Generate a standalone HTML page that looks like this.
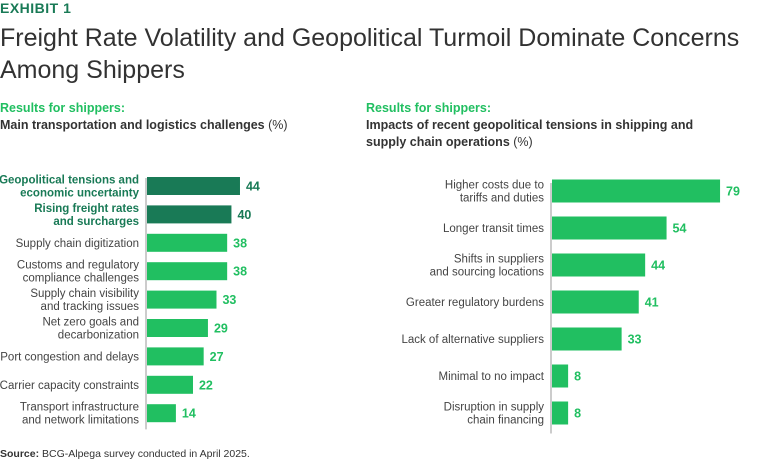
<!DOCTYPE html>
<html><head><meta charset="utf-8"><style>
body{margin:0;width:768px;height:463px;background:#fff;font-family:"Liberation Sans",sans-serif;position:relative;overflow:hidden}
.a{position:absolute;white-space:nowrap}
</style></head><body>
<div class="a" style="left:0;top:0;font-size:14px;font-weight:bold;color:#197a56;letter-spacing:0.5px">EXHIBIT 1</div>
<div class="a" style="left:0;top:22px;font-size:25px;line-height:32px;color:#323232;font-weight:300">Freight Rate Volatility and Geopolitical Turmoil Dominate Concerns<br>Among Shippers</div>
<div class="a" style="left:0;top:100px;font-size:12.5px;line-height:17px;color:#333"><b style="color:#21bf61">Results for shippers:</b><br><b>Main transportation and logistics challenges</b> (%)</div>
<div class="a" style="left:366px;top:100px;font-size:12.5px;line-height:17px;color:#333"><b style="color:#21bf61">Results for shippers:</b><br><b>Impacts of recent geopolitical tensions in shipping and<br>supply chain operations</b> (%)</div>
<div class="a" style="left:0;top:448px;font-size:10.5px;color:#333"><b>Source:</b> BCG-Alpega survey conducted in April 2025.</div>
<svg width="768" height="463" style="position:absolute;left:0;top:0" id="svg"></svg>
<script>
const leftCats=[["Geopolitical tensions and","economic uncertainty"],["Rising freight rates","and surcharges"],["Supply chain digitization"],["Customs and regulatory","compliance challenges"],["Supply chain visibility","and tracking issues"],["Net zero goals and","decarbonization"],["Port congestion and delays"],["Carrier capacity constraints"],["Transport infrastructure","and network limitations"]];
const leftVals=[44,40,38,38,33,29,27,22,14];
const leftHighlight=[true,true,false,false,false,false,false,false,false];
const rightCats=[["Higher costs due to","tariffs and duties"],["Longer transit times"],["Shifts in suppliers","and sourcing locations"],["Greater regulatory burdens"],["Lack of alternative suppliers"],["Minimal to no impact"],["Disruption in supply","chain financing"]];
const rightVals=[79,54,44,41,33,8,8];
const NS="http://www.w3.org/2000/svg",svg=document.getElementById('svg');
function el(t,a){const e=document.createElementNS(NS,t);for(const k in a)e.setAttribute(k,a[k]);svg.appendChild(e);return e;}
function chart(cats,vals,hl,ax,top,step,bh,scale,pre){
  const x=v=>ax+v*scale, y=i=>top+i*step;
  const ln=el('line',{x1:ax,x2:ax,y1:top-8,y2:y(cats.length-1)+step/2+2,stroke:'#999','stroke-width':1});
  
  
  cats.forEach((c,i)=>{
    const cy=y(i), dark=hl&&hl[i];
    const r=el('rect',{x:ax+1,y:cy-bh/2,width:x(vals[i])-ax-1,height:bh,fill:dark?'#197a56':'#21bf61'});
    
    
    const v=el('text',{x:x(vals[i])+6,y:cy+4.5,'font-size':12.5,'font-weight':'bold',fill:dark?'#197a56':'#21bf61'});
    v.textContent=vals[i];
    
    
    const t=el('text',{x:ax-7,'text-anchor':'end','font-size':11.5,fill:dark?'#197a56':'#444','font-weight':dark?'bold':'normal'});
    
    
    c.forEach((s,j)=>{const ts=document.createElementNS(NS,'tspan');ts.setAttribute('x',ax-7);ts.setAttribute('y',cy+4+(j-(c.length-1)/2)*13);ts.textContent=s;t.appendChild(ts);});
  });
}
chart(leftCats,leftVals,leftHighlight,146,186,28.4,18,2.136,'left');
chart(rightCats,rightVals,null,551,191,37,23,2.14,'right');
</script>
</body></html>
